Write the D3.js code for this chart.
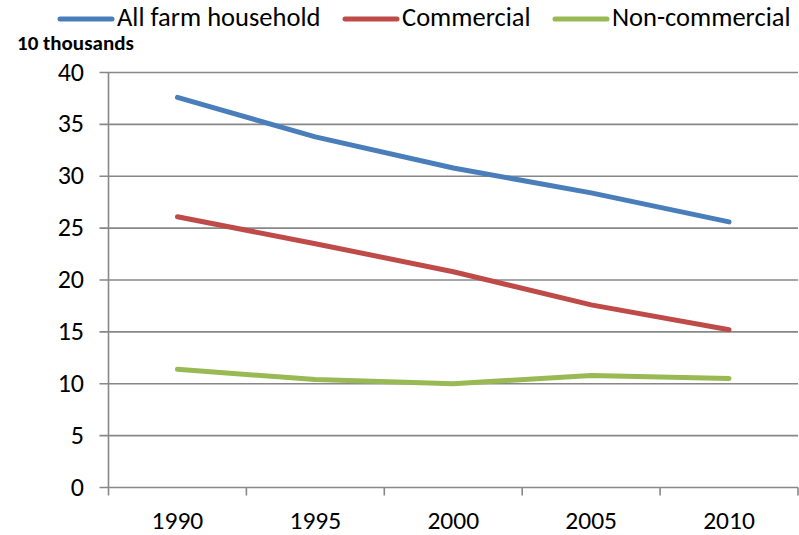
<!DOCTYPE html>
<html><head><meta charset="utf-8">
<script src="https://cdn.jsdelivr.net/npm/d3@7/dist/d3.min.js"></script>
<style>body{margin:0;background:#fff}svg{display:block}text{font-family:Carlito,Lato,"Open Sans",sans-serif}</style>
</head><body>
<svg id="c" width="799" height="535"></svg>
<script>
const years = ["1990","1995","2000","2005","2010"];
const allFarm = [37.6, 33.8, 30.8, 28.4, 25.6];
const commercial = [26.1, 23.5, 20.8, 17.6, 15.2];
const nonCommercial = [11.4, 10.4, 10.0, 10.8, 10.5];
const seriesNames = ["All farm household","Commercial","Non-commercial"];
const colors = ["#4a7ebb","#be4b48","#98b954"];
const yTicks = [0,5,10,15,20,25,30,35,40];
const unitLabel = "10 thousands";

const svg = d3.select("#c");
const L = 108.5, R = 798, T = 72.5, B = 487.5;
const x = d3.scaleBand().domain(years).range([L, R]);
const y = d3.scaleLinear().domain([0,40]).range([B, T]);

// gridlines
svg.append("g").selectAll("line").data(yTicks).join("line")
  .attr("x1", L-9).attr("x2", R).attr("y1", d=>y(d)).attr("y2", d=>y(d))
  .attr("stroke", "#888").attr("stroke-width", 1.6);
// y axis line
svg.append("line").attr("x1", L).attr("x2", L).attr("y1", T).attr("y2", B+8)
  .attr("stroke","#888").attr("stroke-width",1.6);
// x ticks
const bounds = years.map(d=>x(d)).concat([R]);
svg.append("g").selectAll("line").data(bounds.slice(1)).join("line")
  .attr("x1", d=>d).attr("x2", d=>d).attr("y1", B).attr("y2", B+8)
  .attr("stroke","#888").attr("stroke-width",1.6);
// y labels
svg.append("g").selectAll("text").data(yTicks).join("text")
  .attr("x", 84).attr("y", d=>y(d)+8).attr("text-anchor","end")
  .attr("font-size", 26).attr("fill","#000").text(d=>d);
// x labels
svg.append("g").selectAll("text").data(years).join("text")
  .attr("x", d=>x(d)+x.bandwidth()/2).attr("y", 529).attr("text-anchor","middle")
  .attr("font-size", 25.5).attr("fill","#000").text(d=>d);
// unit label
svg.append("text").attr("x",17).attr("y",50).attr("font-size",21).attr("font-weight","bold").text(unitLabel);

// lines
const data = [allFarm, commercial, nonCommercial];
const line = d3.line().x((d,i)=>x(years[i])+x.bandwidth()/2).y(d=>y(d));
svg.append("g").selectAll("path").data(data).join("path")
  .attr("d", line).attr("fill","none").attr("stroke",(d,i)=>colors[i])
  .attr("stroke-width",5).attr("stroke-linecap","round").attr("stroke-linejoin","round");

// legend
const legX = [58, 343, 553];
const lg = svg.append("g").selectAll("g").data(seriesNames).join("g")
  .attr("transform",(d,i)=>`translate(${legX[i]},19)`);
lg.append("line").attr("x1",2).attr("x2",54).attr("y1",0).attr("y2",0)
  .attr("stroke",(d,i)=>colors[i]).attr("stroke-width",5).attr("stroke-linecap","round");
lg.append("text").attr("x",59).attr("y",7).attr("font-size",26.5).attr("fill","#000").text(d=>d);
</script>
</body></html>
